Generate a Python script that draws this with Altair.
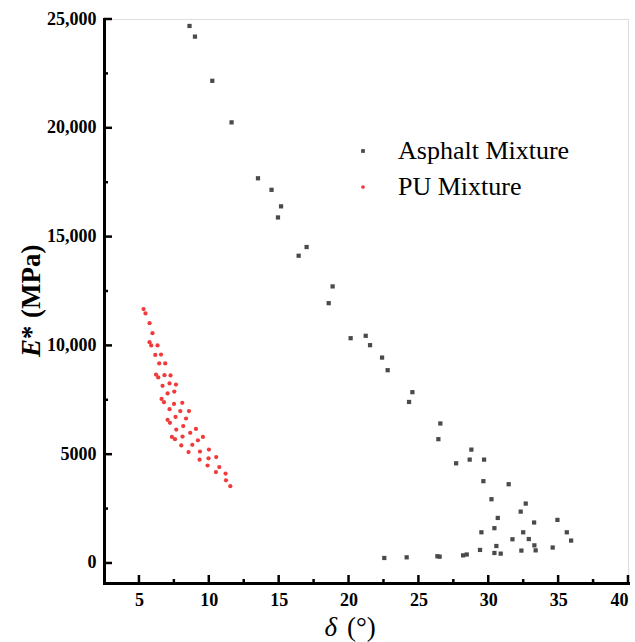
import altair as alt
import pandas as pd

# Phase angle (deg) and dynamic modulus (MPa) for each mixture
asphalt_delta = [8.62, 9.01, 10.25, 11.63, 13.52, 14.49, 15.17, 14.95, 17.00, 16.43,
                 18.86, 18.58, 20.15, 21.23, 21.54, 22.40, 22.80, 24.57, 24.33, 26.57,
                 26.43, 27.70, 28.79, 28.67, 29.70, 29.65, 31.46, 30.23, 32.68, 32.32,
                 30.68, 34.95, 33.28, 30.44, 29.51, 32.50, 35.62, 31.73, 32.90, 35.93,
                 30.58, 33.30, 34.61, 29.41, 33.39, 30.44, 30.89, 32.37, 28.20, 28.46,
                 22.56, 24.16, 26.36, 26.52]
asphalt_modulus = [24680, 24190, 22160, 20250, 17680, 17150, 16390, 15880, 14520, 14120,
                   12710, 11940, 10330, 10440, 10010, 9440, 8860, 7850, 7400, 6410,
                   5690, 4580, 5210, 4750, 4750, 3760, 3620, 2930, 2730, 2360,
                   2070, 1980, 1860, 1600, 1410, 1410, 1410, 1090, 1100, 1030,
                   780, 810, 710, 600, 580, 460, 430, 570, 350, 390,
                   230, 260, 310, 290]

pu_delta = [5.33, 5.47, 5.76, 5.97, 5.76, 5.88, 6.33, 6.17, 6.58, 6.45,
            6.88, 6.22, 6.38, 6.83, 7.26, 6.69, 7.19, 7.65, 7.05, 7.53,
            6.62, 6.79, 7.51, 8.10, 7.19, 7.96, 8.58, 7.62, 8.37, 7.05,
            7.22, 8.17, 9.08, 7.67, 8.67, 7.36, 7.58, 8.12, 9.58, 9.22,
            8.82, 8.03, 10.01, 9.37, 8.55, 10.53, 9.98, 9.34, 9.91, 10.75,
            10.51, 11.20, 11.23, 11.54]
pu_modulus = [11670, 11470, 11020, 10560, 10150, 10000, 10000, 9560, 9580, 9170,
              9170, 8660, 8530, 8630, 8620, 8140, 8250, 8200, 7790, 7880,
              7540, 7390, 7310, 7360, 7070, 6980, 6980, 6710, 6640, 6580,
              6440, 6290, 6160, 6130, 5980, 5790, 5690, 5810, 5790, 5640,
              5430, 5400, 5210, 5120, 5100, 4870, 4810, 4750, 4480, 4410,
              4180, 4110, 3800, 3530]

series_names = ["Asphalt Mixture", "PU Mixture"]
series_colors = ["#4a4a4a", "#ef3b3b"]
series_shapes = ["square", "circle"]

x_major = [5, 10, 15, 20, 25, 30, 35, 40]
x_minor = [7.5, 12.5, 17.5, 22.5, 27.5, 32.5, 37.5]
y_major = [0, 5000, 10000, 15000, 20000, 25000]
y_minor = [2500, 7500, 12500, 17500, 22500]

points = pd.DataFrame({
    "delta": asphalt_delta + pu_delta,
    "modulus": asphalt_modulus + pu_modulus,
    "series": [series_names[0]] * len(asphalt_delta) + [series_names[1]] * len(pu_delta),
})

W, H = 524, 564
FONT = "Liberation Serif"

x_scale = alt.Scale(domain=[2.5, 40], nice=False, zero=False)
y_scale = alt.Scale(domain=[-920, 25000], nice=False, zero=False)

axis_common = dict(
    title=None, grid=False, ticks=False, tickSize=0,
    domainColor="black", domainWidth=3, domainCap="square",
    labelFont=FONT, labelFontSize=18, labelFontWeight="bold", labelColor="black",
    labelOverlap=False,
)
# the last x label sits flush with the axis end so it stays inside the canvas
x_axis = alt.Axis(values=x_major, labelPadding=8, labelFlush=True, **axis_common)
y_axis = alt.Axis(values=y_major, labelPadding=8, labelFlush=False,
                  labelExpr="datum.value >= 10000 ? format(datum.value, ',') : format(datum.value, 'd')",
                  **axis_common)

legend_props = dict(
    title=None, orient="none", legendX=246, legendY=119,
    labelFont=FONT, labelFontSize=26, labelColor="black", labelLimit=0,
    labelOffset=22, rowPadding=10, symbolSize=14, symbolStrokeWidth=0,
    padding=0,
)

scatter = alt.Chart(points).mark_point(filled=True, opacity=1, size=18, strokeWidth=0).encode(
    x=alt.X("delta:Q", scale=x_scale, axis=x_axis),
    y=alt.Y("modulus:Q", scale=y_scale, axis=y_axis),
    color=alt.Color("series:N", scale=alt.Scale(domain=series_names, range=series_colors),
                    legend=alt.Legend(**legend_props)),
    shape=alt.Shape("series:N", scale=alt.Scale(domain=series_names, range=series_shapes),
                    legend=alt.Legend(**legend_props)),
)

# Inward-pointing axis ticks
def x_ticks(values, length):
    return alt.Chart(pd.DataFrame({"delta": values})).mark_rule(color="black", strokeWidth=2.5).encode(
        x=alt.X("delta:Q", scale=x_scale, axis=x_axis),
        y=alt.value(H), y2=alt.value(H - length),
    )

def y_ticks(values, length):
    return alt.Chart(pd.DataFrame({"modulus": values})).mark_rule(color="black", strokeWidth=2.5).encode(
        y=alt.Y("modulus:Q", scale=y_scale, axis=y_axis),
        x=alt.value(0), x2=alt.value(length),
    )

def label(text, x, y, **kw):
    return alt.Chart(pd.DataFrame({"s": [text]})).mark_text(
        font=FONT, color="black", baseline="middle", **kw
    ).encode(text="s:N", x=alt.value(x), y=alt.value(y))

# Axis titles: italic symbol followed by upright unit
y_title = (label("E", -72, 320, angle=270, align="right", fontSize=27, fontWeight="bold", fontStyle="italic")
           + label("*", -72, 320, angle=270, align="left", fontSize=27, fontWeight="bold")
           + label("(MPa)", -72, 299, angle=270, align="left", fontSize=27, fontWeight="bold"))
x_title = (label("δ", 233, 609, align="right", fontSize=27, fontStyle="italic")
           + label("(°)", 243, 609, align="left", fontSize=27))

chart = alt.layer(
    scatter,
    x_ticks(x_major, 8), x_ticks(x_minor, 4),
    y_ticks(y_major, 8), y_ticks(y_minor, 4),
    y_title, x_title,
).properties(
    width=W, height=H,
    autosize=alt.AutoSizeParams(type="none"),
    padding={"left": 104, "top": 19, "right": 7, "bottom": 59},
).configure_view(stroke=None).configure(background="white")

chart.save("out.html", embed_options={"renderer": "svg", "actions": False})
